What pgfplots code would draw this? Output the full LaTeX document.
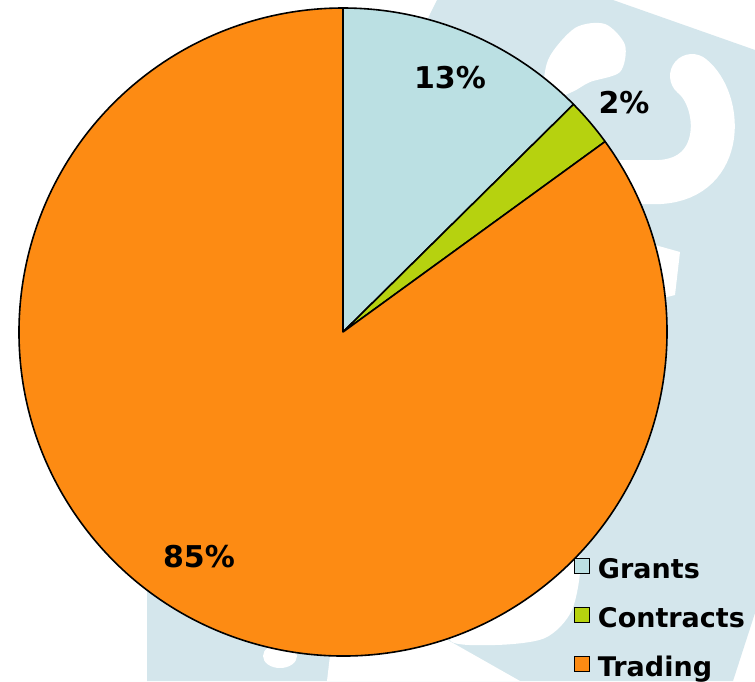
\documentclass[border=0pt]{standalone}
\usepackage{fontspec}
\setmainfont{DejaVu Sans}
\usepackage{pgfplots}
\usepackage{pgfplotstable}
\pgfplotsset{compat=1.18}
\definecolor{grantc}{HTML}{BBE0E3}
\definecolor{contc}{HTML}{B6D20F}
\definecolor{tradec}{HTML}{FD8B13}
\definecolor{wm}{HTML}{D4E6EC}

\pgfplotstableread{
label value color
Grants 12.6 grantc
Contracts 2.4 contc
Trading 85.0 tradec
}\piedata

\begin{document}
\begin{tikzpicture}
\begin{axis}[
  x=1pt, y=1pt, xmin=0, xmax=755, ymin=0, ymax=681, y dir=reverse,
  scale only axis, hide axis, clip=true,
  legend style={at={(0.7603,0.1806)}, anchor=north west, draw=none, fill=none,
    inner sep=0pt, row sep=26pt, legend cell align=left,
    font=\bfseries\fontsize{27}{32}\selectfont,
    nodes={inner sep=0pt, text height=20pt, text depth=3pt}},
  legend image code/.code={\draw[#1,line width=1pt] (0pt,-4pt) rectangle (15pt,11pt); \path (23pt,0pt);},
]
% background watermark
\fill[white] (axis cs:0,0) rectangle (axis cs:755,681);
\fill[wm] (axis cs:437,0) -- (axis cs:613,0) -- (axis cs:755,50) -- (axis cs:755,613)
   -- (axis cs:733,681) -- (axis cs:147,681) -- (axis cs:147,590) -- cycle;
\fill[white] plot[smooth cycle] coordinates {(axis cs:545,100) (axis cs:548,60) (axis cs:575,28) (axis cs:605,24) (axis cs:625,45) (axis cs:620,72) (axis cs:590,82) (axis cs:572,92)};
\draw[white, line width=44pt, line cap=round] (axis cs:692,76) .. controls (axis cs:722,100) and (axis cs:726,178) .. (axis cs:660,182) -- (axis cs:600,182);
\fill[white] (axis cs:655,245) -- (axis cs:680,252) -- (axis cs:675,295) -- (axis cs:655,300) -- cycle;
\fill[white] (axis cs:280,656) ellipse[x radius=17pt, y radius=12pt];
\fill[white] (axis cs:327,681) -- (axis cs:333,630) -- (axis cs:430,630) -- (axis cs:520,681) -- cycle;
\fill[white] plot[smooth cycle] coordinates {(axis cs:480,600) (axis cs:560,540) (axis cs:580,560) (axis cs:572,610) (axis cs:545,638) (axis cs:495,645) (axis cs:450,640)};
% pie
\def\cumangle{90}
\pgfplotsforeachungrouped \i in {0,1,2}{
  \pgfplotstablegetelem{\i}{value}\of\piedata \let\sliceval\pgfplotsretval
  \pgfplotstablegetelem{\i}{color}\of\piedata \let\slicecol\pgfplotsretval
  \pgfmathsetmacro\angend{\cumangle-3.6*\sliceval}
  \edef\temp{\noexpand\draw[fill=\slicecol,line width=1.6pt,line join=round] (axis cs:343,332) -- ++(\cumangle:324pt) arc[start angle=\cumangle,end angle=\angend,radius=324pt] -- cycle;}
  \temp
  \global\let\cumangle\angend
}
\node[font=\bfseries\fontsize{30}{36}\selectfont] at (axis cs:450,78) {13\%};
\node[font=\bfseries\fontsize{30}{36}\selectfont] at (axis cs:624,103) {2\%};
\node[font=\bfseries\fontsize{30}{36}\selectfont] at (axis cs:199,557) {85\%};
\addlegendimage{fill=grantc,draw=black}
\addlegendentry{Grants}
\addlegendimage{fill=contc,draw=black}
\addlegendentry{Contracts}
\addlegendimage{fill=tradec,draw=black}
\addlegendentry{Trading}
\end{axis}
\end{tikzpicture}
\end{document}
